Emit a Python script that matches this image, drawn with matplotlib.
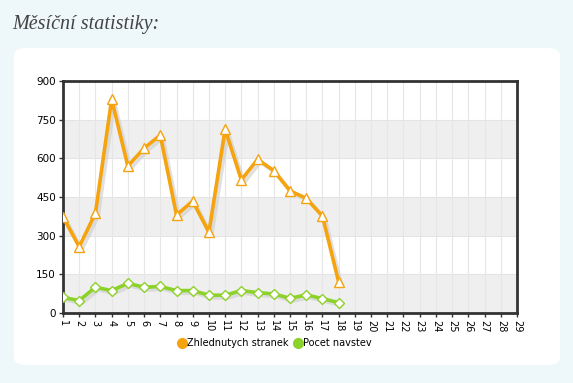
import numpy as np
import matplotlib
matplotlib.use("Agg")
import matplotlib.pyplot as plt
from matplotlib.patches import FancyBboxPatch
import matplotlib.patheffects as pe

# data
days = list(range(1, 19))
page_views = [373, 257, 387, 829, 570, 639, 690, 380, 434, 313,
              713, 516, 596, 552, 474, 445, 376, 121]
visits = [61, 48, 100, 87, 115, 100, 103, 87, 87, 69,
          69, 87, 79, 74, 57, 70, 56, 40]
x_ticks = list(range(1, 30))
y_ticks = [0, 150, 300, 450, 600, 750, 900]
labels = ["Zhlednutych stranek", "Pocet navstev"]
colors = ["#f5a30f", "#8dd12b"]

W, H = 573, 383
fig = plt.figure(figsize=(W / 100, H / 100), dpi=100)
fig.patch.set_facecolor("#eef7f9")

# white rounded panel, drawn behind everything
panel = FancyBboxPatch((14 / W, 1 - 365 / H), (560 - 14) / W, (365 - 48) / H,
                       boxstyle="round,pad=0,rounding_size=0.02",
                       transform=fig.transFigure, facecolor="white",
                       edgecolor="none", zorder=-10)
fig.patches.append(panel)

fig.text(12 / W, 1 - 25 / H, "Měsíční statistiky:", fontsize=14.5,
         family="Liberation Serif", style="italic", color="#444444",
         va="center", ha="left")

ax = fig.add_axes([63 / W, 1 - 313 / H, (517 - 63) / W, (313 - 81) / H])
ax.set_zorder(1)
ax.set_xlim(1, 29)
ax.set_ylim(0, 900)

# alternating bands
for i, lo in enumerate(y_ticks[:-1]):
    if i % 2 == 0:
        ax.axhspan(lo, y_ticks[i + 1], color="#efefef", zorder=0, lw=0)
for y in y_ticks[1:-1]:
    ax.axhline(y, color="#e4e4e4", lw=0.8, zorder=0.5)
for x in x_ticks[1:-1]:
    ax.axvline(x, color="#e6e6e6", lw=0.8, zorder=0.5)

shadow = [pe.SimpleLineShadow(offset=(2, -2), shadow_color="#cccccc", alpha=0.6), pe.Normal()]
for vals, c, m, ms in [(page_views, colors[0], "^", 7.5), (visits, colors[1], "D", 5.5)]:
    ax.plot(days, vals, color=c, lw=2.6, zorder=3, path_effects=shadow)
    ax.plot(days, vals, ls="", marker=m, ms=ms, mfc="white", mec=c,
            mew=1, zorder=4)

ax.set_xticks(x_ticks)
ax.set_xticklabels([str(v) for v in x_ticks], rotation=-90, fontsize=7)
ax.set_yticks(y_ticks)
ax.set_yticklabels([str(v) for v in y_ticks], fontsize=7.5)
ax.tick_params(length=3, width=1, color="#333333", pad=2, labelcolor="black")
for s in ax.spines.values():
    s.set_color("#333333")
    s.set_linewidth(2)

# legend
handles = [plt.Line2D([], [], ls="", marker="o", ms=7, color=c) for c in colors]
fig.legend(handles, labels, loc="center", bbox_to_anchor=(274 / W, 1 - 343 / H),
           ncol=2, frameon=False, fontsize=7, handletextpad=0.0,
           columnspacing=0.5, handlelength=1.0)

fig.savefig("out.png", dpi=100, facecolor=fig.get_facecolor())
